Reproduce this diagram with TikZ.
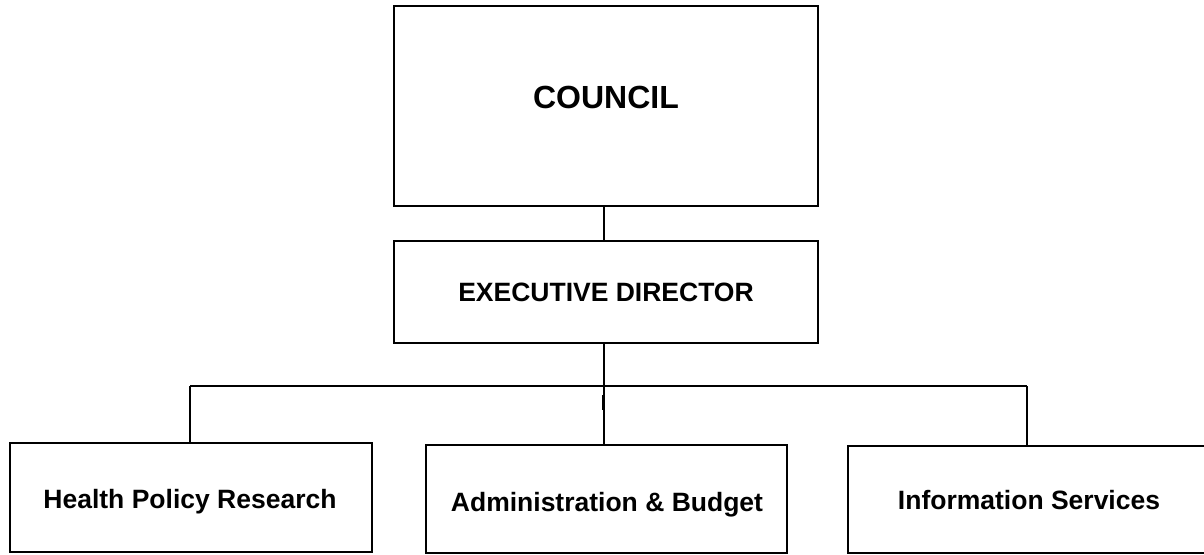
\documentclass[tikz,border=0pt]{standalone}
\usepackage{fontspec}
\setmainfont{Liberation Sans}
\begin{document}
\begin{tikzpicture}[x=1pt,y=-1pt,
  box/.style={draw=black, line width=2pt, rectangle, inner sep=0pt, outer sep=0pt},
  lbl/.style={anchor=base, inner sep=0pt, font=\bfseries\fontsize{26.5}{30}\selectfont},
  big/.style={anchor=base, inner sep=0pt, font=\bfseries\fontsize{32}{36}\selectfont},
  conn/.style={draw=black, line width=1.8pt}]
\useasboundingbox (0,0) rectangle (1204,554);
\clip (0,0) rectangle (1204,554);
\fill[white] (0,0) rectangle (1204,554);
% boxes
\node[box, minimum width=424pt, minimum height=200pt] (council) at (606,106) {};
\node[box, minimum width=424pt, minimum height=102pt] (exec) at (606,292) {};
\node[box, minimum width=362pt, minimum height=109pt] (health) at (191,497.5) {};
\node[box, minimum width=361pt, minimum height=108pt] (admin) at (606.5,499) {};
\node[box, minimum width=362pt, minimum height=107pt] (info) at (1029,499.5) {};
% texts
\node[big] (councilt) at (606,108.5) {COUNCIL};
\node[lbl] (exect) at (606,301.5) {EXECUTIVE DIRECTOR};
\node[lbl] (healtht) at (190,508.5) {Health Policy Research};
\node[lbl] (admint) at (607,511) {Administration \& Budget};
\node[lbl] (infot) at (1029,509) {Information Services};
% junctions
\coordinate (hl) at (190,386);
\coordinate (hm) at (604,386);
\coordinate (hr) at (1027,386);
\coordinate (ta) at (603,395);
\coordinate (tb) at (603,410);
% connectors
\draw[conn] ([xshift=-2pt]council.south) -- ([xshift=-2pt]exec.north);
\draw[conn] ([xshift=-2pt]exec.south) -- (hm);
\draw[conn] (hl) -- (hr);
\draw[conn] (hl) -- (hl |- health.north);
\draw[conn] (hm) -- (hm |- admin.north);
\draw[conn] (hr) -- (hr |- info.north);
\draw[line width=3pt] (ta) -- (tb);
\end{tikzpicture}
\end{document}
